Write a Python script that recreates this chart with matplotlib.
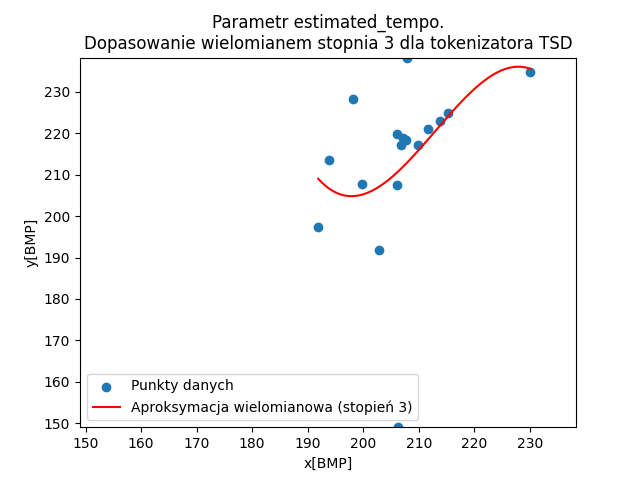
import matplotlib
matplotlib.use('Agg')
import matplotlib.pyplot as plt
import numpy as np

# punkty
x_data = np.array([207.9, 198.2, 193.9, 191.9, 202.9, 199.8, 206.0, 206.1, 207.1, 207.7,
                   206.8, 209.8, 211.6, 213.9, 215.2, 230.1, 206.3])
y_data = np.array([238.3, 228.4, 213.5, 197.4, 191.8, 207.8, 207.6, 219.8, 218.8, 218.4,
                   217.2, 217.3, 221.1, 223.1, 225.0, 234.8, 149.0])

degree = 3
coeffs = np.polyfit(x_data, y_data, degree)
poly = np.poly1d(coeffs)
x_fit = np.linspace(x_data.min(), x_data.max(), 200)

fig, ax = plt.subplots(figsize=(6.4, 4.8), dpi=100)
ax.scatter(x_data, y_data, label='Punkty danych')
ax.plot(x_fit, poly(x_fit), color='red', label='Aproksymacja wielomianowa (stopień %d)' % degree)

lo = min(x_data.min(), y_data.min())
hi = max(x_data.max(), y_data.max())
ax.set_xlim(lo, hi)
ax.set_ylim(lo, hi)

ax.set_title('Parametr estimated_tempo.\nDopasowanie wielomianem stopnia %d dla tokenizatora TSD' % degree)
ax.set_xlabel('x[BMP]')
ax.set_ylabel('y[BMP]')
ax.legend(loc='lower left')

plt.savefig('out.png')
